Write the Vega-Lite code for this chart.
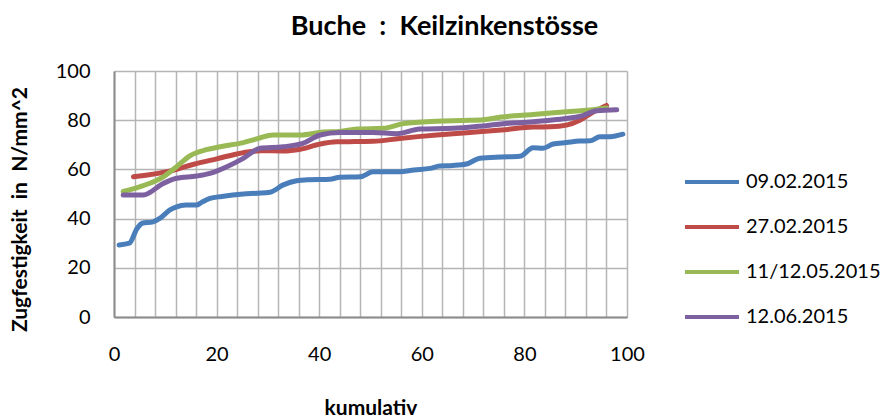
{
  "$schema": "https://vega.github.io/schema/vega-lite/v6.json",
  "autosize": {"type": "none"},
  "width": 513,
  "height": 246,
  "padding": {"left": 114, "top": 71, "right": 260, "bottom": 100},
  "background": "white",
  "title": {
    "text": "Buche\u00a0\u00a0:\u00a0\u00a0Keilzinkenstösse",
    "font": "Lato",
    "fontSize": 27,
    "fontWeight": "bold",
    "color": "#000000",
    "anchor": "middle",
    "frame": "group",
    "dx": 74,
    "offset": 20
  },
  "config": {
    "view": {"stroke": null},
    "font": "Lato"
  },
  "data": {
    "values": [
      {"s": "09.02.2015", "x": 1, "y": 29.3},
      {"s": "09.02.2015", "x": 3, "y": 30},
      {"s": "09.02.2015", "x": 4.5, "y": 36},
      {"s": "09.02.2015", "x": 5.5, "y": 38.1},
      {"s": "09.02.2015", "x": 7.6, "y": 38.7},
      {"s": "09.02.2015", "x": 9, "y": 40.2},
      {"s": "09.02.2015", "x": 10.9, "y": 43.5},
      {"s": "09.02.2015", "x": 12.2, "y": 44.8},
      {"s": "09.02.2015", "x": 14, "y": 45.5},
      {"s": "09.02.2015", "x": 16.1, "y": 45.5},
      {"s": "09.02.2015", "x": 17, "y": 46.5},
      {"s": "09.02.2015", "x": 18.7, "y": 48.2},
      {"s": "09.02.2015", "x": 21, "y": 49},
      {"s": "09.02.2015", "x": 25.2, "y": 50},
      {"s": "09.02.2015", "x": 28, "y": 50.3},
      {"s": "09.02.2015", "x": 30.4, "y": 50.7},
      {"s": "09.02.2015", "x": 33, "y": 53.7},
      {"s": "09.02.2015", "x": 35.6, "y": 55.4},
      {"s": "09.02.2015", "x": 38, "y": 55.8},
      {"s": "09.02.2015", "x": 42.1, "y": 56},
      {"s": "09.02.2015", "x": 44, "y": 56.8},
      {"s": "09.02.2015", "x": 48, "y": 57},
      {"s": "09.02.2015", "x": 50.5, "y": 59},
      {"s": "09.02.2015", "x": 55.7, "y": 59},
      {"s": "09.02.2015", "x": 58.5, "y": 59.8},
      {"s": "09.02.2015", "x": 61.6, "y": 60.4},
      {"s": "09.02.2015", "x": 63.5, "y": 61.4},
      {"s": "09.02.2015", "x": 66, "y": 61.6},
      {"s": "09.02.2015", "x": 68.7, "y": 62.2},
      {"s": "09.02.2015", "x": 71.3, "y": 64.5},
      {"s": "09.02.2015", "x": 75.5, "y": 65},
      {"s": "09.02.2015", "x": 79.1, "y": 65.3},
      {"s": "09.02.2015", "x": 81.7, "y": 68.8},
      {"s": "09.02.2015", "x": 83.6, "y": 68.6},
      {"s": "09.02.2015", "x": 85.6, "y": 70.3},
      {"s": "09.02.2015", "x": 88.2, "y": 70.9},
      {"s": "09.02.2015", "x": 90.8, "y": 71.5},
      {"s": "09.02.2015", "x": 92.8, "y": 71.6},
      {"s": "09.02.2015", "x": 94.7, "y": 73.3},
      {"s": "09.02.2015", "x": 96.7, "y": 73.3},
      {"s": "09.02.2015", "x": 99.2, "y": 74.3},
      {"s": "27.02.2015", "x": 3.8, "y": 57},
      {"s": "27.02.2015", "x": 11.5, "y": 59.6},
      {"s": "27.02.2015", "x": 15.4, "y": 62},
      {"s": "27.02.2015", "x": 20, "y": 64.3},
      {"s": "27.02.2015", "x": 25.2, "y": 66.8},
      {"s": "27.02.2015", "x": 28.5, "y": 67.6},
      {"s": "27.02.2015", "x": 33, "y": 67.5},
      {"s": "27.02.2015", "x": 36.3, "y": 68.2},
      {"s": "27.02.2015", "x": 40.2, "y": 70.3},
      {"s": "27.02.2015", "x": 43.4, "y": 71.2},
      {"s": "27.02.2015", "x": 47, "y": 71.3},
      {"s": "27.02.2015", "x": 50.5, "y": 71.4},
      {"s": "27.02.2015", "x": 55.7, "y": 72.6},
      {"s": "27.02.2015", "x": 62.9, "y": 74},
      {"s": "27.02.2015", "x": 69.4, "y": 75},
      {"s": "27.02.2015", "x": 75.5, "y": 76},
      {"s": "27.02.2015", "x": 81.7, "y": 77.2},
      {"s": "27.02.2015", "x": 85, "y": 77.3},
      {"s": "27.02.2015", "x": 88.2, "y": 78},
      {"s": "27.02.2015", "x": 90.8, "y": 80},
      {"s": "27.02.2015", "x": 93.4, "y": 83.3},
      {"s": "27.02.2015", "x": 96, "y": 86},
      {"s": "11/12.05.2015", "x": 1.8, "y": 51},
      {"s": "11/12.05.2015", "x": 5.7, "y": 53.4},
      {"s": "11/12.05.2015", "x": 9.6, "y": 57},
      {"s": "11/12.05.2015", "x": 12.2, "y": 61.1},
      {"s": "11/12.05.2015", "x": 14.8, "y": 65.5},
      {"s": "11/12.05.2015", "x": 18, "y": 68},
      {"s": "11/12.05.2015", "x": 20.7, "y": 69.2},
      {"s": "11/12.05.2015", "x": 25.2, "y": 70.9},
      {"s": "11/12.05.2015", "x": 28, "y": 72.5},
      {"s": "11/12.05.2015", "x": 31, "y": 74},
      {"s": "11/12.05.2015", "x": 36.3, "y": 74},
      {"s": "11/12.05.2015", "x": 40.8, "y": 75.2},
      {"s": "11/12.05.2015", "x": 44, "y": 75.4},
      {"s": "11/12.05.2015", "x": 47.3, "y": 76.4},
      {"s": "11/12.05.2015", "x": 52.5, "y": 76.7},
      {"s": "11/12.05.2015", "x": 56.4, "y": 78.6},
      {"s": "11/12.05.2015", "x": 62.9, "y": 79.6},
      {"s": "11/12.05.2015", "x": 68, "y": 79.9},
      {"s": "11/12.05.2015", "x": 72, "y": 80.2},
      {"s": "11/12.05.2015", "x": 75.5, "y": 81.3},
      {"s": "11/12.05.2015", "x": 81.7, "y": 82.3},
      {"s": "11/12.05.2015", "x": 88.2, "y": 83.4},
      {"s": "11/12.05.2015", "x": 92.1, "y": 84},
      {"s": "11/12.05.2015", "x": 96, "y": 85},
      {"s": "12.06.2015", "x": 1.8, "y": 49.6},
      {"s": "12.06.2015", "x": 5.7, "y": 49.6},
      {"s": "12.06.2015", "x": 9.6, "y": 54.3},
      {"s": "12.06.2015", "x": 12.2, "y": 56.4},
      {"s": "12.06.2015", "x": 16.1, "y": 57.3},
      {"s": "12.06.2015", "x": 18.7, "y": 58.4},
      {"s": "12.06.2015", "x": 22, "y": 61.1},
      {"s": "12.06.2015", "x": 25.2, "y": 64.5},
      {"s": "12.06.2015", "x": 28.5, "y": 68.6},
      {"s": "12.06.2015", "x": 33, "y": 69.2},
      {"s": "12.06.2015", "x": 36.8, "y": 70.6},
      {"s": "12.06.2015", "x": 40.2, "y": 74},
      {"s": "12.06.2015", "x": 44, "y": 75},
      {"s": "12.06.2015", "x": 50.5, "y": 75},
      {"s": "12.06.2015", "x": 55.1, "y": 74.5},
      {"s": "12.06.2015", "x": 59.6, "y": 76.4},
      {"s": "12.06.2015", "x": 66.1, "y": 76.7},
      {"s": "12.06.2015", "x": 71, "y": 77.5},
      {"s": "12.06.2015", "x": 75.5, "y": 78.5},
      {"s": "12.06.2015", "x": 81.7, "y": 79.4},
      {"s": "12.06.2015", "x": 85, "y": 80},
      {"s": "12.06.2015", "x": 88.2, "y": 80.7},
      {"s": "12.06.2015", "x": 90.8, "y": 81.5},
      {"s": "12.06.2015", "x": 94.1, "y": 83.8},
      {"s": "12.06.2015", "x": 98, "y": 84.2}
    ]
  },
  "mark": {"type": "line", "interpolate": "monotone", "strokeWidth": 5, "strokeCap": "round", "strokeJoin": "round"},
  "encoding": {
    "x": {
      "field": "x",
      "type": "quantitative",
      "scale": {"domain": [0, 100], "nice": false, "zero": false},
      "axis": {
        "values": [0, 4, 8, 12, 16, 20, 24, 28, 32, 36, 40, 44, 48, 52, 56, 60, 64, 68, 72, 76, 80, 84, 88, 92, 96, 100],
        "labelExpr": "datum.value % 20 === 0 ? datum.label : ''",
        "ticks": false,
        "grid": true,
        "gridColor": "#B5B5B5",
        "gridWidth": 1.5,
        "domainColor": "#8C8C8C",
        "domainWidth": 2,
        "labelFont": "Lato",
        "labelFontSize": 20,
        "labelColor": "#000000",
        "labelPadding": 27,
        "labelFlush": false,
        "title": "kumulativ",
        "titleFont": "Lato",
        "titleFontSize": 21,
        "titleFontWeight": "bold",
        "titleColor": "#000000",
        "titlePadding": 33
      }
    },
    "y": {
      "field": "y",
      "type": "quantitative",
      "scale": {"domain": [0, 100], "nice": false},
      "axis": {
        "values": [0, 20, 40, 60, 80, 100],
        "ticks": false,
        "grid": true,
        "gridColor": "#B5B5B5",
        "gridWidth": 1.5,
        "domainColor": "#8C8C8C",
        "domainWidth": 2,
        "labelFont": "Lato",
        "labelFontSize": 20,
        "labelColor": "#000000",
        "labelPadding": 24,
        "title": "Zugfestigkeit\u00a0\u00a0in\u00a0\u00a0N/mm^2",
        "titleFont": "Lato",
        "titleFontSize": 21,
        "titleFontWeight": "bold",
        "titleColor": "#000000",
        "titleX": -94,
        "titleY": 138,
        "titleAngle": -90,
        "titleAlign": "center",
        "titleBaseline": "middle"
      }
    },
    "color": {
      "field": "s",
      "type": "nominal",
      "scale": {
        "domain": ["09.02.2015", "27.02.2015", "11/12.05.2015", "12.06.2015"],
        "range": ["#4A7EBB", "#BE4B48", "#98B954", "#7D60A0"]
      },
      "legend": {
        "title": null,
        "orient": "none",
        "legendX": 569,
        "legendY": 82,
        "symbolType": "stroke",
        "symbolSize": 2916,
        "symbolStrokeWidth": 4,
        "labelFont": "Lato",
        "labelFontSize": 20,
        "labelColor": "#000000",
        "labelOffset": 5,
        "rowPadding": 6
      }
    }
  }
}
